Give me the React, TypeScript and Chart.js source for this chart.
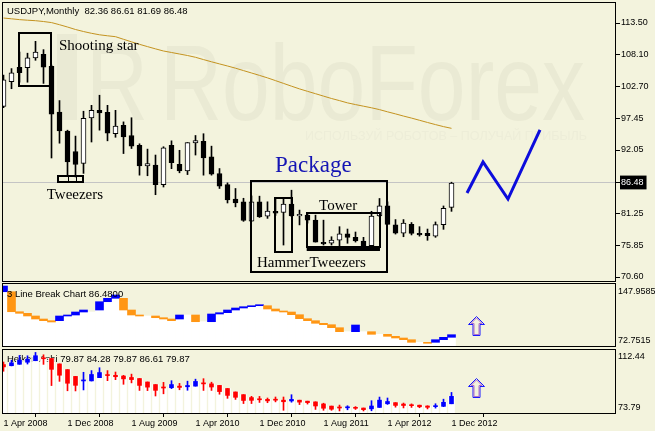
import React, { useEffect, useRef } from 'react';
import { Chart, registerables } from 'chart.js';

Chart.register(...registerables);

const BG = '#f3f3dd';
const WM = '#eaead4';
const WM2 = '#ededd8';
const SANS = '"Liberation Sans", Arial, sans-serif';
const SERIF = '"Liberation Serif", "Times New Roman", serif';

// ---------- time axis ----------
const dateTicks = [0, 8, 16, 24, 32, 40, 48, 56];
const dateLabels = ['1 Apr 2008', '1 Dec 2008', '1 Aug 2009', '1 Apr 2010', '1 Dec 2010', '1 Aug 2011', '1 Apr 2012', '1 Dec 2012'];

// ---------- USDJPY monthly OHLC (Apr 2008 .. Dec 2012) ----------
const opens = [99.4, 103.6, 106.0, 105.95, 107.6, 108.2, 106.2, 98.46, 95.26, 91.8,
  89.77, 97.45, 98.75, 98.4, 94.8, 96.2, 94.5, 92.85, 89.36, 89.5,
  86.2, 92.85, 89.65, 88.5, 93.24, 93.5, 90.9, 88.08, 86.2, 83.75,
  83.3, 80.04, 83.3, 80.88, 81.7, 81.5, 82.9, 80.9, 81.05, 80.2,
  76.45, 76.3, 76.8, 77.9, 77.3, 76.67, 75.9, 80.9, 82.6, 79.4,
  78.0, 79.5, 77.97, 77.97, 77.5, 79.45, 82.36];
const highs = [104.7, 105.8, 108.6, 108.4, 110.4, 109.0, 106.4, 100.4, 95.4, 94.4,
  98.6, 99.6, 101.3, 99.6, 98.75, 96.8, 97.5, 93.1, 92.2, 91.2,
  92.6, 93.6, 92.0, 93.3, 94.5, 94.8, 92.7, 88.92, 86.5, 85.55,
  83.9, 84.3, 84.25, 83.3, 83.9, 83.9, 85.26, 81.9, 81.3, 81.05,
  80.2, 77.4, 79.1, 78.7, 78.2, 77.3, 81.7, 83.86, 83.3, 80.3,
  80.3, 79.8, 79.1, 78.7, 79.9, 82.6, 86.61];
const lows = [99.2, 102.4, 103.5, 103.5, 107.2, 103.3, 90.7, 93.2, 87.6, 87.5,
  88.1, 93.4, 95.4, 93.6, 94.2, 91.45, 92.3, 87.8, 87.7, 84.5,
  85.8, 88.9, 88.2, 87.9, 91.2, 87.8, 87.8, 85.55, 83.1, 82.45,
  80.0, 80.0, 80.66, 80.5, 81.0, 76.0, 80.8, 79.4, 79.7, 76.5,
  76.0, 76.0, 75.6, 76.3, 76.5, 75.6, 75.7, 80.8, 79.5, 77.85,
  77.4, 77.7, 77.5, 76.8, 77.3, 78.65, 81.69];
const closes = [103.9, 105.1, 105.1, 107.6, 108.6, 106.05, 98.1, 95.26, 90.03, 89.6,
  97.4, 98.75, 98.3, 94.9, 96.1, 94.25, 92.7, 89.36, 89.77, 86.2,
  92.4, 89.9, 88.5, 93.3, 93.64, 90.7, 87.96, 85.93, 83.6, 83.1,
  80.15, 83.3, 80.75, 81.72, 81.4, 82.9, 80.9, 81.2, 80.2, 76.5,
  76.2, 76.83, 77.9, 77.3, 76.7, 75.9, 80.9, 82.6, 79.5, 78.0,
  79.7, 77.97, 77.7, 77.6, 79.45, 82.2, 86.48];

// moving average line
const maValues = [114.34, 114.21, 114.07, 113.97, 113.89, 113.75, 113.57, 113.21, 112.82, 112.40,
  112.06, 111.76, 111.51, 111.34, 111.19, 110.75, 110.32, 109.90, 109.51, 109.13,
  108.77, 108.52, 108.26, 108.01, 107.71, 107.32, 106.95, 106.59, 106.24, 105.87,
  105.46, 105.06, 104.65, 104.23, 103.77, 103.30, 102.83, 102.37, 101.96, 101.56,
  101.15, 100.75, 100.39, 100.01, 99.72, 99.45, 99.18, 98.87, 98.50, 98.15,
  97.78, 97.44, 97.07, 96.70, 96.34, 96.00, 95.71];

// forecast zigzag
const forecastX = [57.94, 59.94, 63.06, 67.06];
const forecastY = [84.79, 90.02, 83.77, 95.43];

const priceTicks = [113.5, 108.1, 102.7, 97.45, 92.05, 86.48, 81.25, 75.85, 70.6];
const lastPrice = 86.48;
const titleMain = 'USDJPY,Monthly  82.36 86.61 81.69 86.48';

// ---------- 3 Line Break panel ----------
const lbLow = [137.7, 114.2, 112.35, 109.2, 105.65, 103.66, 102.13, 103.66, 109.18, 110.36,
  113.88, null, 116.23, 125.98, 129.98, 116.23, 110.36, 109.18, null, 107.18,
  105.65, 103.66, 105.65, null, 102.48, null, 102.48, 111.53, 113.06, 116.23,
  118.58, 120.11, 121.28, 117.41, 115.06, 113.88, 110.71, 106.01, 103.66, 100.6,
  98.96, 95.43, 90.73, null, 90.73, null, 87.67, null, 85.32, 83.32,
  81.33, 78.27, null, 77.1, 78.27, 81.33, 84.15];
const lbHigh = [144.4, 137.7, 114.2, 112.35, 109.2, 105.65, 103.66, 109.18, 110.36, 113.88,
  116.23, null, 125.98, 129.98, 133.86, 129.98, 116.23, 110.36, null, 109.18,
  107.18, 105.65, 110.36, null, 110.36, null, 111.53, 113.06, 116.23, 118.58,
  120.11, 121.28, 122.46, 121.28, 117.41, 115.06, 113.88, 110.71, 106.01, 103.66,
  100.6, 98.96, 95.43, null, 98.6, null, 90.73, null, 87.67, 85.32,
  83.32, 81.33, null, 78.27, 81.33, 84.15, 87.2];
const lbUp = [1, 0, 0, 0, 0, 0, 0, 1, 1, 1,
  1, null, 1, 1, 1, 0, 0, 0, null, 0,
  0, 0, 1, null, 0, null, 1, 1, 1, 1,
  1, 1, 1, 0, 0, 0, 0, 0, 0, 0,
  0, 0, 0, null, 1, null, 0, null, 0, 0,
  0, 0, null, 0, 1, 1, 1];
const lbWhite = [137.7, 114.2, 112.35, 109.2, 105.65, 103.66, 102.13, 103.66, 109.18, 110.36,
  113.88, 113.88, 116.23, 125.98, 129.98, 116.23, 110.36, 109.18, 109.18, 107.18,
  105.65, 103.66, 105.65, 110.36, 102.48, 102.48, 102.48, 111.53, 113.06, 116.23,
  118.58, 120.11, 121.28, 117.41, 115.06, 113.88, 110.71, 106.01, 103.66, 100.6,
  98.96, 95.43, 90.73, 90.73, 90.73, 90.73, 87.67, 87.67, 85.32, 83.32,
  81.33, 78.27, 78.27, 77.1, 78.27, 81.33, 84.15];
const lbTicks = [72.7515, 147.9585];
const lbTitle = '3 Line Break Chart 86.4800';
const lbArrow = [86.5, 108.83];

// ---------- Heiken Ashi panel ----------
const haOpen = [103.2, 102.5, 103.36, 104.58, 105.47, 106.96, 106.8, 103.58, 100.2, 96.14,
  93.45, 93.48, 95.39, 96.92, 96.78, 96.37, 95.52, 94.89, 92.83, 91.3,
  89.57, 89.41, 90.36, 89.98, 90.36, 91.76, 91.73, 90.79, 88.95, 86.9,
  85.31, 83.57, 82.74, 82.49, 82.05, 82.02, 81.55, 82.01, 81.43, 81.0,
  79.78, 78.5, 77.56, 77.46, 77.5, 77.34, 76.86, 77.7, 79.87, 80.55,
  79.72, 79.29, 79.02, 78.55, 78.16, 78.35, 79.87];
const haClose = [101.8, 104.23, 105.8, 106.36, 108.45, 106.64, 100.35, 96.83, 92.07, 90.83,
  93.5, 97.3, 98.44, 96.63, 95.96, 94.68, 94.25, 90.78, 89.76, 87.85,
  89.25, 91.31, 89.59, 90.75, 93.15, 91.7, 89.84, 87.12, 84.85, 83.71,
  81.84, 81.91, 82.24, 81.6, 82.0, 81.08, 82.47, 80.85, 80.56, 78.56,
  77.21, 76.63, 77.35, 77.55, 77.18, 76.37, 78.55, 82.04, 81.23, 78.89,
  78.85, 78.74, 78.07, 77.77, 78.54, 80.73, 84.28];
const haHigh = [104.7, 105.8, 108.6, 108.4, 110.4, 109.0, 106.8, 103.58, 100.2, 96.14,
  98.6, 99.6, 101.3, 99.6, 98.75, 96.8, 97.5, 94.89, 92.83, 91.3,
  92.6, 93.6, 92.0, 93.3, 94.5, 94.8, 92.7, 90.79, 88.95, 86.9,
  85.31, 84.3, 84.25, 83.3, 83.9, 83.9, 85.26, 82.01, 81.43, 81.05,
  80.2, 78.5, 79.1, 78.7, 78.2, 77.34, 81.7, 83.86, 83.3, 80.55,
  80.3, 79.8, 79.1, 78.7, 79.9, 82.6, 86.61];
const haLow = [99.2, 102.4, 103.36, 103.5, 105.47, 103.3, 90.7, 93.2, 87.6, 87.5,
  88.1, 93.4, 95.39, 93.6, 94.2, 91.45, 92.3, 87.8, 87.7, 84.5,
  85.8, 88.9, 88.2, 87.9, 90.36, 87.8, 87.8, 85.55, 83.1, 82.45,
  80.0, 80.0, 80.66, 80.5, 81.0, 76.0, 80.8, 79.4, 79.7, 76.5,
  76.0, 76.0, 75.6, 76.3, 76.5, 75.6, 75.7, 77.7, 79.5, 77.85,
  77.4, 77.7, 77.5, 76.8, 77.3, 78.16, 79.87];
const haTicks = [73.79, 112.44];
const haTitle = 'Heiken Ashi 79.87 84.28 79.87 86.61 79.87';
const haArrow = [83.72, 95.37];
const arrowX = 59;

// ---------- pattern annotations (bar index / price) ----------
const patternBoxes = [
  { x0: 1.94, x1: 5.94, y0: 111.76, y1: 102.86 },
  { x0: 6.85, x1: 9.98, y0: 87.71, y1: 86.59 },
  { x0: 30.9, x1: 47.98, y0: 86.86, y1: 71.49 },
  { x0: 33.94, x1: 36.02, y0: 83.89, y1: 74.87 },
  { x0: 37.9, x1: 47.06, y0: 81.36, y1: 75.72 },
];
const tweezerDividers = [8, 9];
const tweezerBar = { x0: 37.9, x1: 47.06, y: 75.4 };
const patternLabels = ['Shooting star', 'Tweezers', 'Package', 'Tower', 'Hammer', 'Tweezers'];
const labelX = [6.94, 5.4, 33.94, 39.44, 31.69, 38.25];
const labelY = [109.02, 83.69, 88.38, 81.92, 72.34, 72.37];

const X_MIN = -0.1875;
const X_MAX = 76.5625;
const MAIN_MIN = 69.756;
const MAIN_MAX = 117.047;

const bgPlugin = {
  id: 'bg',
  beforeDraw(chart: any) {
    const { ctx, width, height } = chart;
    ctx.save();
    ctx.fillStyle = BG;
    ctx.fillRect(0, 0, width, height);
    ctx.restore();
  },
};
const framePlugin = {
  id: 'frame',
  afterDraw(chart: any) {
    const { ctx, chartArea: a } = chart;
    ctx.save();
    ctx.strokeStyle = '#000';
    ctx.lineWidth = 1;
    ctx.strokeRect(a.left + 0.5, a.top + 0.5, a.right - a.left - 1, a.bottom - a.top - 1);
    ctx.restore();
  },
};

function noPad(s: any) {
  s.paddingTop = 0;
  s.paddingBottom = 0;
  s.paddingLeft = 0;
  s.paddingRight = 0;
}

function drawArrow(chart: any, vals: number[]) {
  const { ctx } = chart;
  const xs = chart.scales.x;
  const ys = chart.scales.y;
  const cx = Math.round(xs.getPixelForValue(arrowX)) + 0.5;
  const bottom = Math.round(ys.getPixelForValue(vals[0])) + 0.5;
  const top = Math.round(ys.getPixelForValue(vals[1])) + 0.5;
  const hh = 8;
  ctx.save();
  ctx.lineWidth = 1;
  ctx.strokeStyle = '#1818ff';
  ctx.beginPath();
  ctx.moveTo(cx - 3.5, bottom);
  ctx.lineTo(cx - 3.5, top + hh);
  ctx.lineTo(cx - 8, top + hh);
  ctx.lineTo(cx, top);
  ctx.lineTo(cx + 8, top + hh);
  ctx.lineTo(cx + 3.5, top + hh);
  ctx.lineTo(cx + 3.5, bottom);
  ctx.closePath();
  ctx.stroke();
  ctx.strokeStyle = '#b070c8';
  ctx.beginPath();
  ctx.moveTo(cx - 2.5, bottom - 1);
  ctx.lineTo(cx - 2.5, top + hh - 1);
  ctx.lineTo(cx - 5.5, top + hh - 1);
  ctx.lineTo(cx, top + 1.5);
  ctx.lineTo(cx + 5.5, top + hh - 1);
  ctx.lineTo(cx + 2.5, top + hh - 1);
  ctx.lineTo(cx + 2.5, bottom - 1);
  ctx.closePath();
  ctx.stroke();
  ctx.restore();
}

function fitText(ctx: any, text: string, x: number, baseline: number, size: number, targetW: number) {
  ctx.save();
  ctx.font = `${size}px ${SANS}`;
  const w = ctx.measureText(text).width;
  ctx.translate(x, baseline);
  ctx.scale(targetW / w, 1);
  ctx.fillText(text, 0, 0);
  ctx.restore();
}

const mainDecor = {
  id: 'mainDecor',
  beforeDatasetsDraw(chart: any) {
    const { ctx } = chart;
    ctx.save();
    ctx.fillStyle = WM;
    ctx.fillRect(57, 34, 20, 86);
    fitText(ctx, 'R', 86, 120, 107, 62);
    fitText(ctx, 'RoboForex', 160, 120, 107, 425);
    ctx.fillStyle = WM2;
    fitText(ctx, 'ИСПОЛЬЗУЙ РОБОТОВ – ПОЛУЧАЙ ПРИБЫЛЬ', 305, 140, 13, 282);
    ctx.restore();
  },
  afterDatasetsDraw(chart: any) {
    const { ctx } = chart;
    const xs = chart.scales.x;
    const ys = chart.scales.y;
    ctx.save();
    ctx.strokeStyle = '#000';
    ctx.lineWidth = 2;
    patternBoxes.forEach((b) => {
      const x0 = Math.round(xs.getPixelForValue(b.x0));
      const x1 = Math.round(xs.getPixelForValue(b.x1));
      const y0 = Math.round(ys.getPixelForValue(b.y0));
      const y1 = Math.round(ys.getPixelForValue(b.y1));
      ctx.strokeRect(x0, y0, x1 - x0, y1 - y0);
    });
    ctx.lineWidth = 1;
    const tb = patternBoxes[1];
    tweezerDividers.forEach((d) => {
      const x = Math.round(xs.getPixelForValue(d)) + 0.5;
      ctx.beginPath();
      ctx.moveTo(x, ys.getPixelForValue(tb.y0));
      ctx.lineTo(x, ys.getPixelForValue(tb.y1));
      ctx.stroke();
    });
    ctx.lineWidth = 3;
    ctx.beginPath();
    const ty = Math.round(ys.getPixelForValue(tweezerBar.y)) + 0.5;
    ctx.moveTo(xs.getPixelForValue(tweezerBar.x0), ty);
    ctx.lineTo(xs.getPixelForValue(tweezerBar.x1), ty);
    ctx.stroke();

    ctx.textAlign = 'left';
    ctx.textBaseline = 'alphabetic';
    patternLabels.forEach((t, i) => {
      const big = t === 'Package';
      ctx.font = `${big ? 23 : 15}px ${SERIF}`;
      ctx.fillStyle = big ? '#1414b4' : '#000';
      ctx.fillText(t, xs.getPixelForValue(labelX[i]), ys.getPixelForValue(labelY[i]));
    });
    ctx.font = `9.5px ${SANS}`;
    ctx.fillStyle = '#000';
    ctx.textBaseline = 'middle';
    ctx.fillText(titleMain, 7, 11);
    ctx.restore();
  },
};

const lbDecor = {
  id: 'lbDecor',
  afterDatasetsDraw(chart: any) {
    const { ctx } = chart;
    ctx.save();
    ctx.font = `9.5px ${SANS}`;
    ctx.fillStyle = '#000';
    ctx.textBaseline = 'middle';
    ctx.fillText(lbTitle, 7, 11.5);
    ctx.restore();
    drawArrow(chart, lbArrow);
  },
};

const haDecor = {
  id: 'haDecor',
  beforeDatasetsDraw(chart: any) {
    const { ctx } = chart;
    ctx.save();
    ctx.font = `9.5px ${SANS}`;
    ctx.fillStyle = '#000';
    ctx.textBaseline = 'middle';
    ctx.fillText(haTitle, 7, 12.5);
    ctx.restore();
  },
  afterDatasetsDraw(chart: any) {
    drawArrow(chart, haArrow);
  },
};

const baseX = {
  type: 'linear', min: X_MIN, max: X_MAX, display: false, offset: false,
  afterFit: noPad,
};

function edgeAxis(ticksArr: number[], digits: number, topLH: number, botLH: number) {
  const mid = (ticksArr[0] + ticksArr[1]) / 2;
  return {
    position: 'right',
    min: ticksArr[0],
    max: ticksArr[1],
    afterFit(s: any) { s.width = 39; noPad(s); },
    afterBuildTicks(s: any) { s.ticks = ticksArr.map((v) => ({ value: v })); },
    border: { display: false },
    grid: { display: true, drawOnChartArea: false, drawTicks: false, color: 'rgba(0,0,0,0)' },
    ticks: {
      autoSkip: false,
      padding: 2,
      color: '#000',
      font: (c: any) => ({ family: SANS, size: 9, lineHeight: c.tick && c.tick.value > mid ? topLH : botLH }),
      callback: (v: any) => {
        const s = Number(v).toFixed(digits);
        return Number(v) > mid ? ['', s] : [s, ''];
      },
    },
  };
}

export default function App() {
  const mainRef = useRef<HTMLCanvasElement>(null);
  const lbRef = useRef<HTMLCanvasElement>(null);
  const haRef = useRef<HTMLCanvasElement>(null);

  useEffect(() => {
    document.body.style.margin = '0';
    document.body.style.background = BG;
    const idx = opens.map((_, i) => i);

    const main = new Chart(mainRef.current as any, {
      type: 'bar',
      data: {
        datasets: [
          {
            type: 'line',
            data: maValues.map((v, i) => ({ x: i, y: v })),
            borderColor: '#c49320',
            borderWidth: 1,
            pointRadius: 0,
            tension: 0,
            order: 3,
          } as any,
          {
            type: 'bar',
            data: idx.map((i) => ({ x: i, y: [lows[i], highs[i]] })),
            backgroundColor: '#000',
            barThickness: 1,
            grouped: false,
            order: 2,
          },
          {
            type: 'bar',
            data: idx.map((i) => ({ x: i, y: [opens[i], closes[i]] })),
            backgroundColor: idx.map((i) => (closes[i] >= opens[i] ? '#ffffff' : '#000000')),
            borderColor: '#000',
            borderWidth: 1,
            borderSkipped: false,
            barThickness: 5,
            minBarLength: 1,
            grouped: false,
            order: 1,
          },
          {
            type: 'line',
            data: forecastX.map((x, i) => ({ x, y: forecastY[i] })),
            borderColor: '#0c0cdc',
            borderWidth: 3,
            pointRadius: 0,
            tension: 0,
            order: 0,
          } as any,
        ],
      },
      options: {
        animation: false,
        responsive: false,
        events: [],
        layout: { padding: { left: 2, top: 2, bottom: 1, right: 0 } },
        plugins: { legend: { display: false }, tooltip: { enabled: false } },
        scales: {
          x: baseX as any,
          y: {
            position: 'right',
            min: MAIN_MIN,
            max: MAIN_MAX,
            afterFit(s: any) { s.width = 39; noPad(s); },
            afterBuildTicks(s: any) { s.ticks = priceTicks.map((v) => ({ value: v })); },
            border: { display: false },
            grid: {
              color: (c: any) => (c.tick && c.tick.value === lastPrice ? '#c4c4c4' : 'rgba(0,0,0,0)'),
              tickColor: '#000',
              tickLength: 4,
              drawOnChartArea: true,
            },
            ticks: {
              autoSkip: false,
              padding: 1,
              font: { family: SANS, size: 9 },
              color: (c: any) => (c.tick && c.tick.value === lastPrice ? '#fff' : '#000'),
              showLabelBackdrop: true,
              backdropColor: (c: any) => (c.tick && c.tick.value === lastPrice ? '#000' : 'rgba(0,0,0,0)'),
              backdropPadding: { top: 2, bottom: 1, left: 1, right: 3 },
              callback: (v: any) => Number(v).toFixed(2),
            },
          } as any,
        },
      },
      plugins: [bgPlugin, mainDecor, framePlugin],
    });

    const lbPairs = idx.filter((i) => lbLow[i] != null);
    const lb = new Chart(lbRef.current as any, {
      type: 'bar',
      data: {
        datasets: [
          {
            data: idx.map((i) => ({ x: i, y: [lbTicks[0], lbWhite[i]] })),
            backgroundColor: '#ffffff',
            barThickness: 8,
            grouped: false,
            order: 2,
          },
          {
            data: lbPairs.map((i) => ({ x: i, y: [lbLow[i], lbHigh[i]] })),
            backgroundColor: lbPairs.map((i) => (lbUp[i] ? '#0000ff' : '#ff9614')),
            barThickness: 8,
            grouped: false,
            order: 1,
          },
        ] as any,
      },
      options: {
        animation: false,
        responsive: false,
        events: [],
        layout: { padding: { left: 2, top: 0, bottom: 0, right: 0 } },
        plugins: { legend: { display: false }, tooltip: { enabled: false } },
        scales: {
          x: baseX as any,
          y: edgeAxis(lbTicks, 4, 1.8, 1.4) as any,
        },
      },
      plugins: [bgPlugin, lbDecor, framePlugin],
    });

    const ha = new Chart(haRef.current as any, {
      type: 'bar',
      data: {
        datasets: [
          {
            data: idx.map((i) => ({ x: i, y: [haTicks[0], Math.max(haOpen[i], haClose[i])] })),
            backgroundColor: '#ffffff',
            barThickness: 6,
            grouped: false,
            order: 3,
          },
          {
            data: idx.map((i) => ({ x: i, y: [haLow[i], haHigh[i]] })),
            backgroundColor: idx.map((i) => (haClose[i] >= haOpen[i] ? '#0000ff' : '#ff0000')),
            barThickness: 1,
            grouped: false,
            order: 2,
          },
          {
            data: idx.map((i) => ({ x: i, y: [haOpen[i], haClose[i]] })),
            backgroundColor: idx.map((i) => (haClose[i] >= haOpen[i] ? '#0000ff' : '#ff0000')),
            barThickness: 4,
            minBarLength: 1,
            grouped: false,
            order: 1,
          },
        ] as any,
      },
      options: {
        animation: false,
        responsive: false,
        events: [],
        layout: { padding: { left: 2, top: 2, bottom: 0, right: 0 } },
        plugins: { legend: { display: false }, tooltip: { enabled: false } },
        scales: {
          x: {
            type: 'linear',
            min: X_MIN,
            max: X_MAX,
            offset: false,
            position: 'bottom',
            afterFit(s: any) { s.height = 17; noPad(s); },
            afterBuildTicks(s: any) { s.ticks = dateTicks.map((v) => ({ value: v })); },
            border: { display: false },
            grid: { drawOnChartArea: false, tickLength: 3, tickColor: '#000', color: 'rgba(0,0,0,0)' },
            ticks: {
              autoSkip: false,
              maxRotation: 0,
              minRotation: 0,
              align: 'start',
              padding: 1,
              color: '#000',
              font: { family: SANS, size: 9 },
              callback: (_v: any, i: number) => dateLabels[i],
            },
          } as any,
          y: edgeAxis(haTicks, 2, 1.7, 1.55) as any,
        },
      },
      plugins: [bgPlugin, haDecor, framePlugin],
    });

    return () => {
      main.destroy();
      lb.destroy();
      ha.destroy();
    };
  }, []);

  return (
    <div style={{ position: 'relative', width: 655, height: 431, background: BG, overflow: 'hidden' }}>
      <canvas ref={mainRef} width={655} height={283} style={{ position: 'absolute', left: 0, top: 0 }} />
      <canvas ref={lbRef} width={655} height={64} style={{ position: 'absolute', left: 0, top: 283 }} />
      <canvas ref={haRef} width={655} height={84} style={{ position: 'absolute', left: 0, top: 347 }} />
    </div>
  );
}
